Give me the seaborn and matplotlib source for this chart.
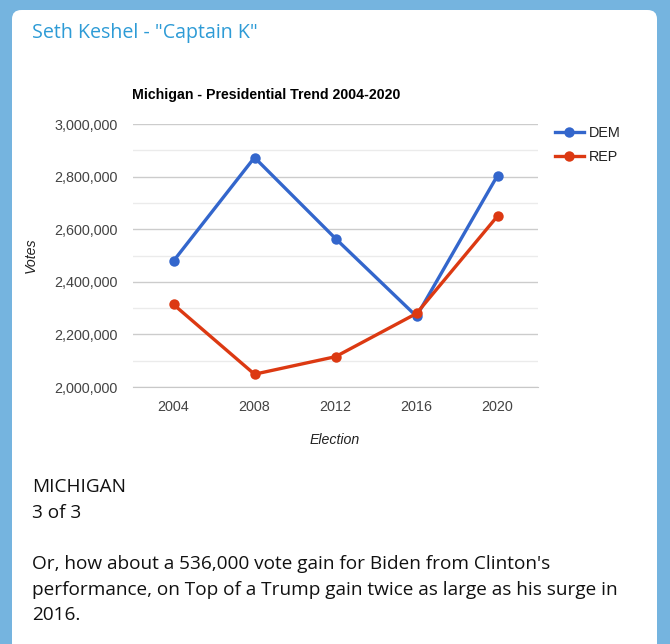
import pandas as pd
import seaborn as sns
import matplotlib.pyplot as plt
from matplotlib.patches import FancyBboxPatch
from matplotlib.ticker import FuncFormatter, MultipleLocator

years = [2004, 2008, 2012, 2016, 2020]
dem_votes = [2479183, 2872579, 2564569, 2268839, 2804040]
rep_votes = [2313746, 2048639, 2115256, 2279543, 2649852]
parties = ["DEM", "REP"]
colors = ["#3366cc", "#dc3912"]

post_header = 'Seth Keshel - "Captain K"'
post_lines = [
    "MICHIGAN",
    "3 of 3",
    "",
    "Or, how about a 536,000 vote gain for Biden from Clinton's",
    "performance, on Top of a Trump gain twice as large as his surge in",
    "2016.",
]

df = pd.DataFrame({
    "Election": years * 2,
    "Votes": dem_votes + rep_votes,
    "Party": ["DEM"] * len(years) + ["REP"] * len(years),
})

W, H = 670, 644
fig = plt.figure(figsize=(W / 100, H / 100), dpi=100)
fig.patch.set_facecolor("#75b4df")

# white message card (rounded top, runs off the bottom)
card = FancyBboxPatch((12 / W, -0.05), 645 / W, 1.05 - 10 / H,
                      boxstyle="round,pad=0,rounding_size=0.014",
                      transform=fig.transFigure, facecolor="white",
                      edgecolor="none", zorder=-5)
fig.patches.append(card)

fig.text(32 / W, 1 - 33 / H, post_header, family="Open Sans", fontsize=14.1,
         color="#2d9bd6", va="center", ha="left")

ax = fig.add_axes([133 / W, 1 - 387 / H, 405 / W, 263 / H], zorder=2)
ax.set_facecolor("white")
sns.lineplot(data=df, x="Election", y="Votes", hue="Party", hue_order=parties,
             palette=colors, marker="o", markersize=7.5, linewidth=2.4,
             markeredgewidth=0, ax=ax, legend=False, zorder=3)

ax.set_xlim(2002, 2022)
ax.set_ylim(2000000, 3000000)
ax.set_xticks(years)
ax.yaxis.set_major_locator(MultipleLocator(200000))
ax.yaxis.set_minor_locator(MultipleLocator(100000))
ax.yaxis.set_major_formatter(FuncFormatter(lambda v, p: f"{int(v):,}"))
ax.grid(axis="y", which="major", color="#cccccc", linewidth=1)
ax.grid(axis="y", which="minor", color="#ebebeb", linewidth=1)
ax.grid(axis="x", visible=False)
ax.set_axisbelow(True)
for s in ["left", "right", "top"]:
    ax.spines[s].set_visible(False)
ax.spines["bottom"].set_color("#c8c8c8")
ax.tick_params(axis="both", which="both", length=0, labelsize=10.4,
               labelcolor="#444444")
ax.tick_params(axis="y", pad=11)
ax.tick_params(axis="x", pad=9)
for lab in ax.get_xticklabels() + ax.get_yticklabels():
    lab.set_family("Liberation Sans")

ax.set_xlabel("")
ax.set_ylabel("")
fig.text(31 / W, 1 - 255 / H, "Votes", rotation=90, style="italic",
         family="Liberation Sans", fontsize=10.2, color="#222222",
         ha="center", va="center")
fig.text(335 / W, 1 - 440 / H, "Election", style="italic",
         family="Liberation Sans", fontsize=10.2, color="#222222",
         ha="center", va="center")
fig.text(132 / W, 1 - 95 / H, "Michigan - Presidential Trend 2004-2020",
         weight="bold", family="Liberation Sans", fontsize=10.2,
         color="#000000", ha="left", va="center")

handles = [plt.Line2D([], [], color=c, marker="o", markersize=7.5,
                      linewidth=2.4, markeredgewidth=0) for c in colors]
leg = fig.legend(handles, parties, loc="upper left",
                 bbox_to_anchor=(542 / W, 1 - 113 / H), frameon=False,
                 handlelength=2.0, handletextpad=0.35, labelspacing=0.7,
                 prop={"family": "Liberation Sans", "size": 10.4})
for t in leg.get_texts():
    t.set_color("#222222")

y0 = 487
for i, line in enumerate(post_lines):
    if line:
        fig.text(32 / W, 1 - (y0 + 25.7 * i) / H, line, family="Open Sans",
                 fontsize=13.7, color="#111111", ha="left", va="center")

fig.savefig("out.png", dpi=100, facecolor=fig.get_facecolor())
